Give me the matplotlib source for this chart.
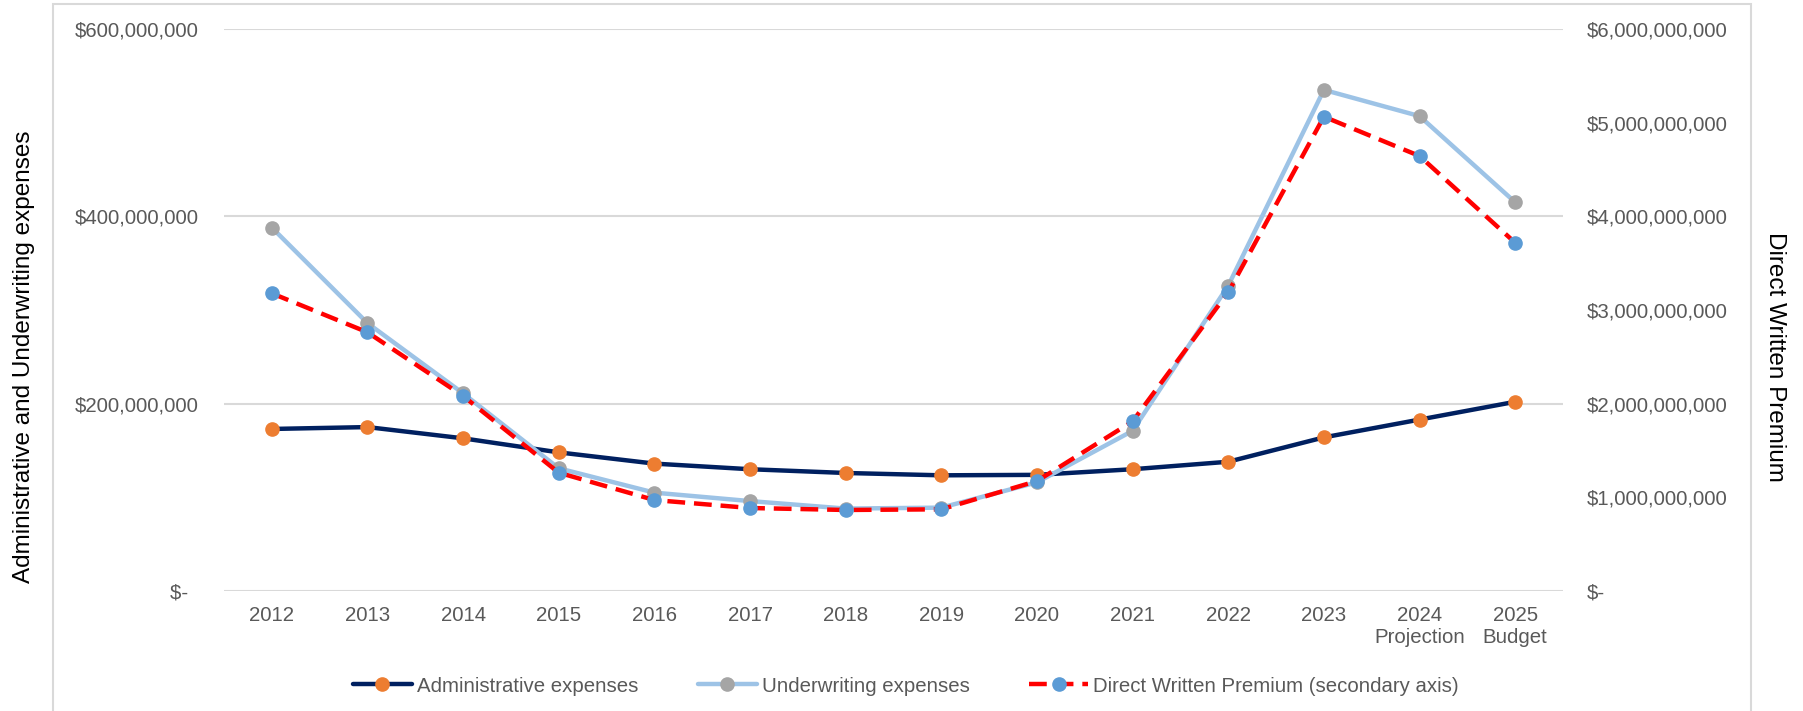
import matplotlib
matplotlib.use("Agg")
import matplotlib.pyplot as plt
from matplotlib.ticker import FuncFormatter
from matplotlib.patches import Rectangle

plt.rcParams['font.family'] = ['Liberation Sans', 'DejaVu Sans']

categories = ["2012", "2013", "2014", "2015", "2016", "2017", "2018", "2019",
              "2020", "2021", "2022", "2023", "2024\nProjection", "2025\nBudget"]
admin_expenses = [173e6, 175e6, 163e6, 148e6, 136e6, 130e6, 126e6, 123.5e6,
                  124e6, 130e6, 138e6, 164e6, 183e6, 202e6]
underwriting_expenses = [388e6, 286e6, 211e6, 131e6, 105e6, 96e6, 88e6, 89e6,
                         116e6, 171e6, 326e6, 535e6, 507e6, 415e6]
direct_written_premium = [3178e6, 2762e6, 2082e6, 1263e6, 971e6, 886e6, 865e6, 872e6,
                          1174e6, 1811e6, 3189e6, 5064e6, 4644e6, 3718e6]
left_ticks = [0, 200e6, 400e6, 600e6]
right_ticks = [0, 1e9, 2e9, 3e9, 4e9, 5e9, 6e9]

W, H = 1803, 711
fig = plt.figure(figsize=(W / 100, H / 100), dpi=100)
ax = fig.add_axes([224 / W, 1 - 591 / H, (1563 - 224) / W, (591 - 29) / H])
ax2 = ax.twinx()

x = list(range(len(categories)))
tick_color = '#595959'
grid_color = '#D9D9D9'
fs = 14.7

l1, = ax.plot(x, admin_expenses, color='#002060', lw=3.2, marker='o', ms=9.5,
              mfc='#ED7D31', mec='#ED7D31', zorder=3, solid_capstyle='round')
l2, = ax.plot(x, underwriting_expenses, color='#9DC3E6', lw=3.2, marker='o', ms=9.5,
              mfc='#A5A5A5', mec='#A5A5A5', zorder=4, solid_capstyle='round')
l3, = ax2.plot(x, direct_written_premium, color='#FF0000', lw=3.2, marker='o', ms=9.5,
               mfc='#5B9BD5', mec='#5B9BD5', dashes=(4, 2), zorder=5)

ax.set_xlim(-0.5, len(categories) - 0.5)
ax.set_ylim(0, 600e6)
ax2.set_ylim(0, 6e9)
ax.set_yticks(left_ticks)
ax2.set_yticks(right_ticks)


def money_left(v, pos):
    if v == 0:
        return '$-  '
    return '${:,.0f}'.format(v)


def money_right(v, pos):
    if v == 0:
        return '$-'
    return '${:,.0f}'.format(v)


ax.yaxis.set_major_formatter(FuncFormatter(money_left))
ax2.yaxis.set_major_formatter(FuncFormatter(money_right))
ax.set_xticks(x)
ax.set_xticklabels(categories, linespacing=1.2)

for a in (ax, ax2):
    for s in a.spines.values():
        s.set_visible(False)
    a.tick_params(length=0, labelsize=fs, labelcolor=tick_color)
ax.tick_params(axis='y', pad=18)
ax2.tick_params(axis='y', pad=17)
ax.tick_params(axis='x', pad=11)

ax.grid(axis='y', color=grid_color, lw=1.5)
ax.set_axisbelow(True)
ax.patch.set_alpha(0)

fig.text(24 / W, 0.498, 'Administrative and Underwriting expenses',
         rotation=90, ha='center', va='center', fontsize=17.5, color='black')
fig.text(1775 / W, 0.498, 'Direct Written Premium',
         rotation=270, ha='center', va='center', fontsize=17.5, color='black')

fig.legend([l1, l2, l3],
           ['Administrative expenses', 'Underwriting expenses',
            'Direct Written Premium (secondary axis)'],
           loc='center', bbox_to_anchor=(906 / W, 1 - 686 / H), ncol=3,
           frameon=False, fontsize=fs, labelcolor=tick_color,
           handlelength=2.9, handletextpad=0.25, columnspacing=2.9)

fig.patches.append(Rectangle((53 / W, -0.1), (1751 - 53) / W, 1.1 - 4 / H,
                             transform=fig.transFigure, fill=False,
                             edgecolor=grid_color, lw=1.5))

fig.savefig('out.png', dpi=100)
